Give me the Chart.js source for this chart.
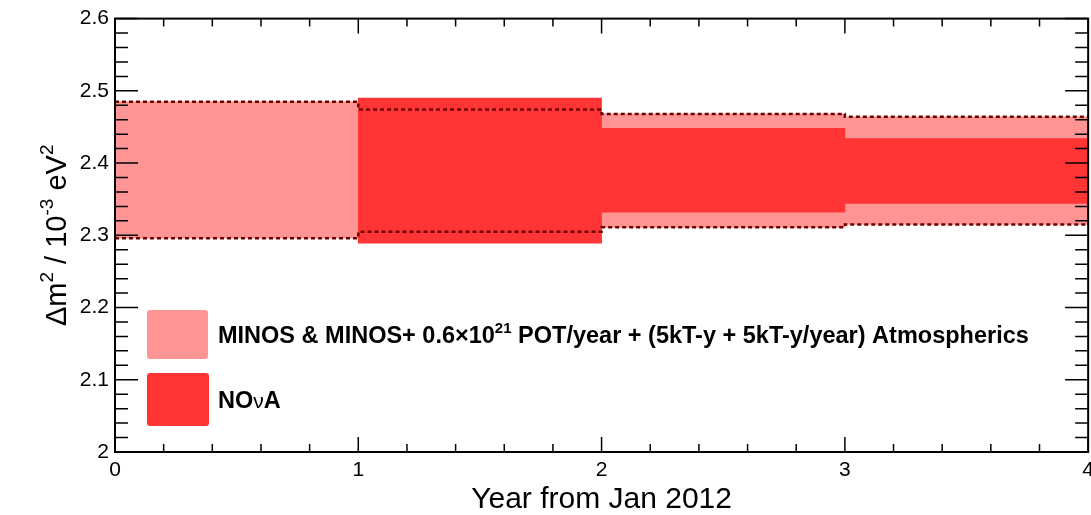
<!DOCTYPE html>
<html>
<head>
<meta charset="utf-8">
<title>Δm² precision vs year</title>
<script src="https://cdn.jsdelivr.net/npm/chart.js@4.4.1/dist/chart.umd.min.js"></script>
<style>
  html, body { margin: 0; padding: 0; background: #fff; overflow: hidden; }
  #wrap { position: relative; width: 1100px; height: 515px; }
</style>
</head>
<body>
<div id="wrap"><canvas id="dm2Chart"></canvas></div>
<script>
// Year bins (years from Jan 2012), one band value per bin
const yearEdges = [0, 1, 2, 3, 4];
const xTickValues = [0, 1, 2, 3, 4];
const yTickValues = [2.0, 2.1, 2.2, 2.3, 2.4, 2.5, 2.6];

// MINOS & MINOS+ band, per year bin
const minosLow  = [2.296, 2.305, 2.311, 2.315];
const minosHigh = [2.485, 2.474, 2.468, 2.464];

// NOvA band, starts in the second year
const novaYears = [1, 2, 3];
const novaLow   = [2.289, 2.332, 2.344];
const novaHigh  = [2.490, 2.448, 2.434];

const FONT = '"Liberation Sans", Arial, Helvetica, sans-serif';
const MINOS_COLOR = '#ff9494';
const NOVA_COLOR = '#ff3535';
const EDGE_COLOR = '#6e0000';

// bar centred in its year bin
const binBars = (starts, lo, hi) => starts.map((s, i) => ({ x: s + 0.5, y: [lo[i], hi[i]] }));
// stepped outline along the bin edges
const stepLine = vals => yearEdges.map((x, i) => ({ x: x, y: vals[Math.min(i, vals.length - 1)] }));

const edgeStyle = {
    type: 'line',
    borderColor: EDGE_COLOR,
    borderWidth: 2.5,
    borderDash: [4, 3],
    pointRadius: 0,
    stepped: 'before',
    fill: false,
    order: 0
};

// inward ticks on all four sides plus the frame
const frameTicks = {
    id: 'frameTicks',
    afterDatasetsDraw(chart) {
        const { ctx, chartArea: a, scales: { x, y } } = chart;
        ctx.save();
        ctx.strokeStyle = '#000';
        ctx.lineWidth = 1.5;
        ctx.beginPath();
        for (let i = 0; i < yTickValues.length; i++) {
            const steps = i < yTickValues.length - 1 ? 5 : 1;
            for (let k = 0; k < steps; k++) {
                const v = yTickValues[i] + k * (0.1 / 5);
                const py = y.getPixelForValue(v);
                const len = k === 0 ? 23 : 13;
                ctx.moveTo(a.left, py); ctx.lineTo(a.left + len, py);
                ctx.moveTo(a.right, py); ctx.lineTo(a.right - len, py);
            }
        }
        for (let i = 0; i < xTickValues.length; i++) {
            const steps = i < xTickValues.length - 1 ? 5 : 1;
            for (let k = 0; k < steps; k++) {
                const px = x.getPixelForValue(xTickValues[i] + k * 0.2);
                const len = k === 0 ? 15 : 8;
                ctx.moveTo(px, a.bottom); ctx.lineTo(px, a.bottom - len);
                ctx.moveTo(px, a.top); ctx.lineTo(px, a.top + len);
            }
        }
        ctx.stroke();
        ctx.lineWidth = 2;
        ctx.strokeRect(a.left, a.top, a.right - a.left, a.bottom - a.top);
        ctx.restore();
    }
};

// text made of runs with their own font and vertical shift
function drawRuns(ctx, runs, x, y) {
    runs.forEach(r => {
        ctx.font = r.font;
        ctx.fillText(r.text, x, y + (r.dy || 0));
        x += ctx.measureText(r.text).width;
    });
    return x;
}
function runsWidth(ctx, runs) {
    let w = 0;
    runs.forEach(r => { ctx.font = r.font; w += ctx.measureText(r.text).width; });
    return w;
}

const legendEntries = [
    {
        color: MINOS_COLOR, box: [147, 310, 61, 49],
        runs: [
            { text: 'MINOS & MINOS+ 0.6\u00d710', font: 'bold 23.5px ' + FONT },
            { text: '21', font: 'bold 15px ' + FONT, dy: -10 },
            { text: ' POT/year + (5kT-y + 5kT-y/year) Atmospherics', font: 'bold 23.5px ' + FONT }
        ]
    },
    {
        color: NOVA_COLOR, box: [147, 373, 62, 53],
        runs: [
            { text: 'NO', font: 'bold 23.5px ' + FONT },
            { text: '\u03bd', font: '21px ' + FONT },
            { text: 'A', font: 'bold 23.5px ' + FONT }
        ]
    }
];

const legendAndTitle = {
    id: 'legendAndTitle',
    afterDraw(chart) {
        const { ctx, chartArea: a } = chart;
        ctx.save();
        ctx.fillStyle = '#000';
        ctx.textBaseline = 'alphabetic';
        legendEntries.forEach(e => {
            const [bx, by, bw, bh] = e.box;
            ctx.fillStyle = e.color;
            ctx.beginPath();
            ctx.roundRect(bx, by, bw, bh, 3);
            ctx.fill();
            ctx.fillStyle = '#000';
            drawRuns(ctx, e.runs, 218, by + bh / 2 + 8.5);
        });

        // y axis title, rotated
        const yTitle = [
            { text: '\u0394m', font: '29px ' + FONT },
            { text: '2', font: '19px ' + FONT, dy: -13 },
            { text: ' / 10', font: '29px ' + FONT },
            { text: '-3', font: '19px ' + FONT, dy: -13 },
            { text: ' eV', font: '29px ' + FONT },
            { text: '2', font: '19px ' + FONT, dy: -13 }
        ];
        ctx.translate(66, (a.top + a.bottom) / 2);
        ctx.rotate(-Math.PI / 2);
        drawRuns(ctx, yTitle, -runsWidth(ctx, yTitle) / 2, 0);
        ctx.restore();
    }
};

const ctx = document.getElementById('dm2Chart').getContext('2d');
const dm2Chart = new Chart(ctx, {
    type: 'bar',
    data: {
        datasets: [
            {
                label: 'MINOS & MINOS+',
                data: binBars(yearEdges.slice(0, -1), minosLow, minosHigh),
                backgroundColor: MINOS_COLOR,
                borderWidth: 0,
                grouped: false,
                barPercentage: 1,
                categoryPercentage: 1,
                order: 2
            },
            {
                label: 'NOvA',
                data: binBars(novaYears, novaLow, novaHigh),
                backgroundColor: NOVA_COLOR,
                borderWidth: 0,
                grouped: false,
                barPercentage: 1,
                categoryPercentage: 1,
                order: 1
            },
            Object.assign({ label: 'MINOS upper', data: stepLine(minosHigh) }, edgeStyle),
            Object.assign({ label: 'MINOS lower', data: stepLine(minosLow) }, edgeStyle)
        ]
    },
    options: {
        responsive: true,
        maintainAspectRatio: false,
        animation: false,
        layout: { padding: { left: 0, right: 10, top: 14, bottom: 0 } },
        scales: {
            x: {
                type: 'linear',
                min: 0,
                max: 4,
                offset: false,
                afterBuildTicks: scale => { scale.ticks = xTickValues.map(v => ({ value: v })); },
                afterFit: scale => { scale.height = 63; },
                ticks: {
                    color: '#000',
                    padding: 6,
                    maxRotation: 0,
                    font: { family: FONT, size: 21 }
                },
                grid: { display: false, drawTicks: false, offset: false },
                border: { display: false },
                title: {
                    display: true,
                    text: 'Year from Jan 2012',
                    color: '#000',
                    padding: 0,
                    font: { family: FONT, size: 30, lineHeight: 1 }
                }
            },
            y: {
                min: 2,
                max: 2.6,
                afterBuildTicks: scale => { scale.ticks = yTickValues.map(v => ({ value: v })); },
                afterFit: scale => { scale.width = 115; },
                ticks: {
                    color: '#000',
                    padding: 6,
                    font: { family: FONT, size: 21 },
                    callback: v => String(Math.round(v * 10) / 10)
                },
                grid: { display: false, drawTicks: false },
                border: { display: false }
            }
        },
        plugins: {
            legend: { display: false },
            tooltip: { enabled: false }
        }
    },
    plugins: [frameTicks, legendAndTitle]
});
</script>
</body>
</html>
